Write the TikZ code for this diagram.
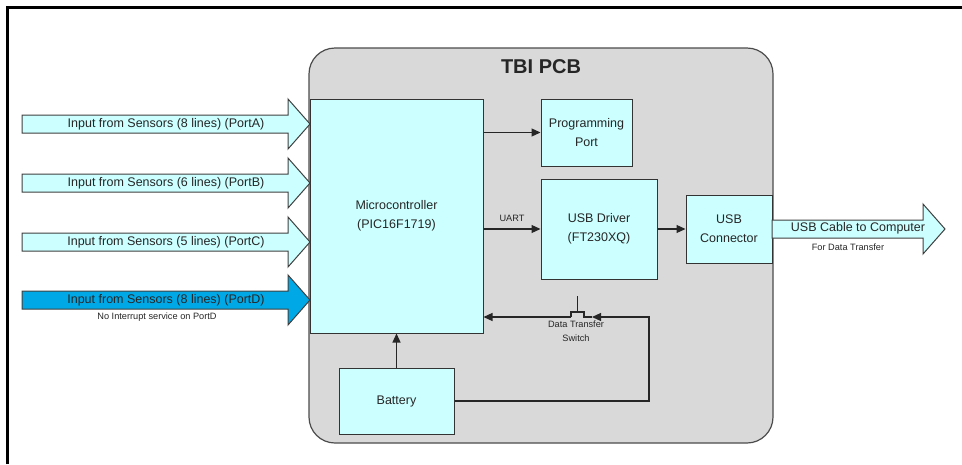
\documentclass[tikz,border=0pt]{standalone}
\usepackage{fontspec}
\setmainfont{Liberation Sans}
\usepackage{tikz}
\usepackage{xcolor}
\usetikzlibrary{arrows.meta}

\definecolor{boxcyan}{HTML}{CCFFFF}
\definecolor{pcbgray}{HTML}{D9D9D9}
\definecolor{portblue}{HTML}{00A8E6}

% tail x, tip x, y, fill
\newcommand{\fatarrow}[4]{%
  \filldraw[fill=#4, draw=black!75, line width=1pt] (#1,#3-9) -- (#2-22,#3-9) -- (#2-22,#3-25) -- (#2,#3) -- (#2-22,#3+25) -- (#2-22,#3+9) -- (#1,#3+9) -- cycle;}

\begin{document}
\begin{tikzpicture}[x=1pt, y=-1pt,
    block/.style={draw=black!80, fill=boxcyan, line width=1pt, inner sep=0pt, align=center, text=black!85, font=\fontsize{12.5}{19}\selectfont},
    conn/.style={draw=black!85, line width=1.2pt, -{Triangle[length=9pt,width=8pt]}},
    wire/.style={draw=black!85, line width=1.2pt},
    small/.style={align=center, text=black!85, font=\fontsize{9.2}{14.5}\selectfont},
    arrowtext/.style={text=black!85, font=\fontsize{12.5}{15}\selectfont}]

    \useasboundingbox (0,0) rectangle (962,464);

    % Frame
    \draw[line width=3pt] (7.5,464) -- (7.5,7.5) -- (962,7.5);

    % Board
    \filldraw[fill=pcbgray, draw=black!70, line width=1.2pt, rounded corners=26pt] (309,48) rectangle (773,443);
    \node[text=black!85, font=\bfseries\fontsize{20}{24}\selectfont] (title) at (541,67) {TBI PCB};

    % Blocks
    \node[block, minimum width=173pt, minimum height=234pt] (mcu) at (396.5,216) {Microcontroller\\(PIC16F1719)};
    \node[block, minimum width=91pt, minimum height=67pt] (prog) at (586.5,132.5) {Programming\\Port};
    \node[block, minimum width=116pt, minimum height=100pt] (usbdrv) at (599,229) {USB Driver\\(FT230XQ)};
    \node[block, minimum width=86pt, minimum height=68pt] (usbcon) at (729,229) {USB\\Connector};
    \node[block, minimum width=115pt, minimum height=66pt] (batt) at (396.5,401) {Battery};

    % Sensor inputs
    \fatarrow{22}{310}{124}{boxcyan}
    \fatarrow{22}{310}{183}{boxcyan}
    \fatarrow{22}{310}{242}{boxcyan}
    \fatarrow{22}{310}{300}{portblue}
    \node[arrowtext] (inA) at (166,124) {Input from Sensors (8 lines) (PortA)};
    \node[arrowtext] (inB) at (166,183) {Input from Sensors (6 lines) (PortB)};
    \node[arrowtext] (inC) at (166,242) {Input from Sensors (5 lines) (PortC)};
    \node[arrowtext] (inD) at (166,300) {Input from Sensors (8 lines) (PortD)};
    \node[small] (noint) at (157,317) {No Interrupt service on PortD};

    % USB cable
    \fatarrow{772}{945}{229}{boxcyan}
    \node[arrowtext] (cable) at (858,228) {USB Cable to Computer};
    \node[small] (fordata) at (848,247) {For Data Transfer};

    % Connections
    \draw[conn] (mcu.east |- prog.west) -- (prog.west);
    \draw[conn] (mcu.east |- usbdrv.west) -- node[small, above=3pt] (uart) {UART} (usbdrv.west);
    \draw[conn] (usbdrv.east) -- (usbcon.west);
    \draw[conn] (batt.north) -- (mcu.south);

    % Data transfer switch
    \coordinate (swL) at (571,317);
    \coordinate (swR) at (584,317);
    \coordinate (swtip) at (592,317);
    \draw[wire] (swL) -- ++(0,-5) -| (swR) -- (swtip);
    \draw[wire] (577.5,312) -- (577.5,296);
    \draw[conn] (batt.east) -| (649,317) -- (swtip);
    \draw[conn] (swL) -- (mcu.east |- swL);
    \node[small] (swlabel) at (576,331) {Data Transfer\\Switch};
\end{tikzpicture}
\end{document}
